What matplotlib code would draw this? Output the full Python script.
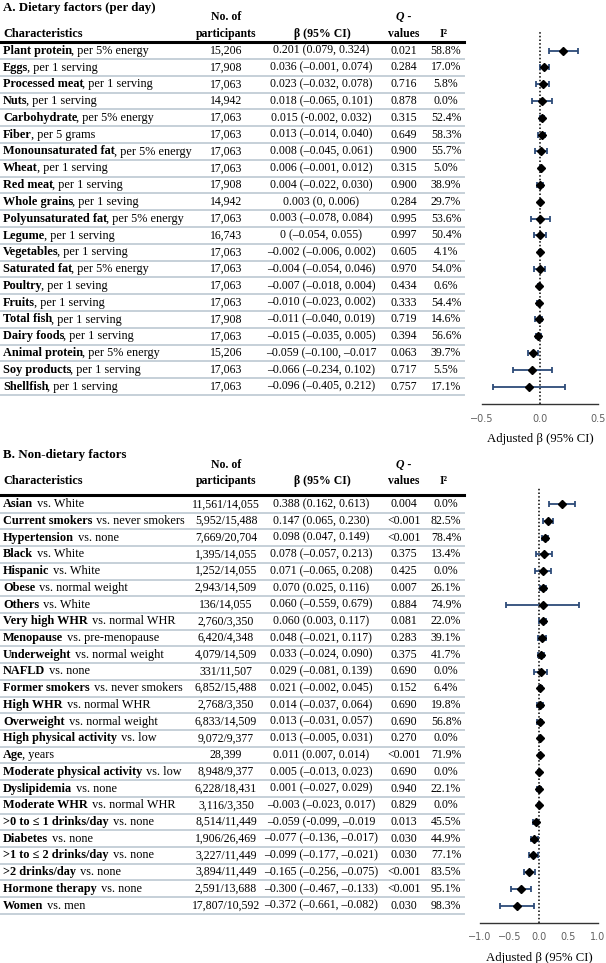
import numpy as np
import matplotlib
matplotlib.use("Agg")
import matplotlib.pyplot as plt

plt.rcParams['font.family'] = ['Liberation Serif', 'DejaVu Serif']

# ---------------- A. Dietary factors ----------------
a_name = ["Plant protein", "Eggs", "Processed meat", "Nuts", "Carbohydrate", "Fiber",
          "Monounsaturated fat", "Wheat", "Red meat", "Whole grains", "Polyunsaturated fat",
          "Legume", "Vegetables", "Saturated fat", "Poultry", "Fruits", "Total fish",
          "Dairy foods", "Animal protein", "Soy products", "Shellfish"]
a_unit = [", per 5% energy", ", per 1 serving", ", per 1 serving", ", per 1 serving",
          ", per 5% energy", ", per 5 grams", ", per 5% energy", ", per 1 serving",
          ", per 1 serving", ", per 1 seving", ", per 5% energy", ", per 1 serving",
          ", per 1 serving", ", per 5% energy", ", per 1 seving", ", per 1 serving",
          ", per 1 serving", ", per 1 serving", ", per 5% energy", ", per 1 serving",
          ", per 1 serving"]
a_n = ["15,206", "17,908", "17,063", "14,942", "17,063", "17,063", "17,063", "17,063",
       "17,908", "14,942", "17,063", "16,743", "17,063", "17,063", "17,063", "17,063",
       "17,908", "17,063", "15,206", "17,063", "17,063"]
a_ci_txt = ["0.201 (0.079, 0.324)", "0.036 (\u20130.001, 0.074)", "0.023 (\u20130.032, 0.078)",
            "0.018 (\u20130.065, 0.101)", "0.015 (-0.002, 0.032)", "0.013 (\u20130.014, 0.040)",
            "0.008 (\u20130.045, 0.061)", "0.006 (\u20130.001, 0.012)", "0.004 (\u20130.022, 0.030)",
            "0.003 (0, 0.006)", "0.003 (\u20130.078, 0.084)", "0 (\u20130.054, 0.055)",
            "\u20130.002 (\u20130.006, 0.002)", "\u20130.004 (\u20130.054, 0.046)",
            "\u20130.007 (\u20130.018, 0.004)", "\u20130.010 (\u20130.023, 0.002)",
            "\u20130.011 (\u20130.040, 0.019)", "\u20130.015 (\u20130.035, 0.005)",
            "\u20130.059 (\u20130.100, \u20130.017", "\u20130.066 (\u20130.234, 0.102)",
            "\u20130.096 (\u20130.405, 0.212)"]
a_q = ["0.021", "0.284", "0.716", "0.878", "0.315", "0.649", "0.900", "0.315", "0.900",
       "0.284", "0.995", "0.997", "0.605", "0.970", "0.434", "0.333", "0.719", "0.394",
       "0.063", "0.717", "0.757"]
a_i2 = ["58.8%", "17.0%", "5.8%", "0.0%", "52.4%", "58.3%", "55.7%", "5.0%", "38.9%",
        "29.7%", "53.6%", "50.4%", "4.1%", "54.0%", "0.6%", "54.4%", "14.6%", "56.6%",
        "39.7%", "5.5%", "17.1%"]
a_beta = [0.201, 0.036, 0.023, 0.018, 0.015, 0.013, 0.008, 0.006, 0.004, 0.003, 0.003,
          0.0, -0.002, -0.004, -0.007, -0.010, -0.011, -0.015, -0.059, -0.066, -0.096]
a_lo = [0.079, -0.001, -0.032, -0.065, -0.002, -0.014, -0.045, -0.001, -0.022, 0.0, -0.078,
        -0.054, -0.006, -0.054, -0.018, -0.023, -0.040, -0.035, -0.100, -0.234, -0.405]
a_hi = [0.324, 0.074, 0.078, 0.101, 0.032, 0.040, 0.061, 0.012, 0.030, 0.006, 0.084,
        0.055, 0.002, 0.046, 0.004, 0.002, 0.019, 0.005, -0.017, 0.102, 0.212]

# ---------------- B. Non-dietary factors ----------------
b_name = ["Asian", "Current smokers", "Hypertension", "Black", "Hispanic", "Obese", "Others",
          "Very high WHR", "Menopause", "Underweight", "NAFLD", "Former smokers", "High WHR",
          "Overweight", "High physical activity", "Age", "Moderate physical activity",
          "Dyslipidemia", "Moderate WHR", ">0 to \u2264 1 drinks/day", "Diabetes",
          ">1 to \u2264 2 drinks/day", ">2 drinks/day", "Hormone therapy", "Women"]
b_unit = [" vs. White", " vs. never smokers", " vs. none", " vs. White", " vs. White",
          " vs. normal weight", " vs. White", " vs. normal WHR", " vs. pre-menopause",
          " vs. normal weight", " vs. none", " vs. never smokers", " vs. normal WHR",
          " vs. normal weight", " vs. low", ", years", " vs. low", " vs. none",
          " vs. normal WHR", " vs. none", " vs. none", " vs. none", " vs. none", " vs. none",
          " vs. men"]
b_n = ["11,561/14,055", "5,952/15,488", "7,669/20,704", "1,395/14,055", "1,252/14,055",
       "2,943/14,509", "136/14,055", "2,760/3,350", "6,420/4,348", "4,079/14,509",
       "331/11,507", "6,852/15,488", "2,768/3,350", "6,833/14,509", "9,072/9,377", "28,399",
       "8,948/9,377", "6,228/18,431", "3,116/3,350", "8,514/11,449", "1,906/26,469",
       "3,227/11,449", "3,894/11,449", "2,591/13,688", "17,807/10,592"]
b_ci_txt = ["0.388 (0.162, 0.613)", "0.147 (0.065, 0.230)", "0.098 (0.047, 0.149)",
            "0.078 (\u20130.057, 0.213)", "0.071 (\u20130.065, 0.208)", "0.070 (0.025, 0.116)",
            "0.060 (\u20130.559, 0.679)", "0.060 (0.003, 0.117)", "0.048 (\u20130.021, 0.117)",
            "0.033 (\u20130.024, 0.090)", "0.029 (\u20130.081, 0.139)", "0.021 (\u20130.002, 0.045)",
            "0.014 (\u20130.037, 0.064)", "0.013 (\u20130.031, 0.057)", "0.013 (\u20130.005, 0.031)",
            "0.011 (0.007, 0.014)", "0.005 (\u20130.013, 0.023)", "0.001 (\u20130.027, 0.029)",
            "\u20130.003 (\u20130.023, 0.017)", "\u20130.059 (-0.099, \u20130.019",
            "\u20130.077 (\u20130.136, \u20130.017)", "\u20130.099 (\u20130.177, \u20130.021)",
            "\u20130.165 (\u20130.256, \u20130.075)", "\u20130.300 (\u20130.467, \u20130.133)",
            "\u20130.372 (\u20130.661, \u20130.082)"]
b_q = ["0.004", "<0.001", "<0.001", "0.375", "0.425", "0.007", "0.884", "0.081", "0.283",
       "0.375", "0.690", "0.152", "0.690", "0.690", "0.270", "<0.001", "0.690", "0.940",
       "0.829", "0.013", "0.030", "0.030", "<0.001", "<0.001", "0.030"]
b_i2 = ["0.0%", "82.5%", "78.4%", "13.4%", "0.0%", "26.1%", "74.9%", "22.0%", "39.1%",
        "41.7%", "0.0%", "6.4%", "19.8%", "56.8%", "0.0%", "71.9%", "0.0%", "22.1%", "0.0%",
        "45.5%", "44.9%", "77.1%", "83.5%", "95.1%", "98.3%"]
b_beta = [0.388, 0.147, 0.098, 0.078, 0.071, 0.070, 0.060, 0.060, 0.048, 0.033, 0.029, 0.021,
          0.014, 0.013, 0.013, 0.011, 0.005, 0.001, -0.003, -0.059, -0.077, -0.099, -0.165,
          -0.300, -0.372]
b_lo = [0.162, 0.065, 0.047, -0.057, -0.065, 0.025, -0.559, 0.003, -0.021, -0.024, -0.081,
        -0.002, -0.037, -0.031, -0.005, 0.007, -0.013, -0.027, -0.023, -0.099, -0.136, -0.177,
        -0.256, -0.467, -0.661]
b_hi = [0.613, 0.230, 0.149, 0.213, 0.208, 0.116, 0.679, 0.117, 0.117, 0.090, 0.139, 0.045,
        0.064, 0.057, 0.031, 0.014, 0.023, 0.029, 0.017, -0.019, -0.017, -0.021, -0.075,
        -0.133, -0.082]

W, H = 606, 963
FS = 8.5        # numbers / header
FS_NAME = 8.8   # characteristics column
LINE_C = "#c6d0d8"
ERR_C = "#2d4b78"

fig = plt.figure(figsize=(W / 100, H / 100), dpi=100)
bg = fig.add_axes([0, 0, 1, 1])
bg.set_xlim(0, W)
bg.set_ylim(H, 0)
bg.axis("off")
renderer = fig.canvas.get_renderer()


def panel(title, names, units, ns, ci_txt, qs, i2s, beta, lo, hi,
          top, y0, dy, ax_l, ax_w, ax_top, ax_bot, xlim, ticks):
    # title and header
    bg.text(3, top, title, fontsize=9.3, fontweight="bold", va="center")
    h1, h2 = top + 9.5, top + 26
    bg.text(226, h1, "No. of", fontsize=FS, fontweight="bold", ha="center", va="center")
    bg.text(3, h2, "Characteristics", fontsize=FS_NAME, fontweight="bold", va="center")
    bg.text(226, h2, "participants", fontsize=FS, fontweight="bold", ha="center", va="center")
    bg.text(322, h2, "\u03b2 (95% CI)", fontsize=FS, fontweight="bold", ha="center", va="center")
    bg.text(404, h1, "Q -", fontsize=FS, fontweight="bold", style="italic", ha="center", va="center")
    bg.text(404, h2, "values", fontsize=FS, fontweight="bold", ha="center", va="center")
    bg.text(444, h2, "I\u00b2", fontsize=FS, fontweight="bold", ha="center", va="center")
    bg.plot([0, 464], [y0 - dy * 0.53, y0 - dy * 0.53], color="black", lw=2.2)

    for i in range(len(names)):
        y = y0 + i * dy
        t = bg.text(3, y, names[i], fontsize=FS_NAME, fontweight="bold", va="center")
        shift = -1.2 if units[i].startswith(",") else 1.0
        x_end = t.get_window_extent(renderer=renderer).x1 + shift
        bg.text(x_end, y, units[i], fontsize=FS_NAME, va="center")
        bg.text(226, y, ns[i], fontsize=FS, ha="center", va="center")
        bg.text(321, y, ci_txt[i], fontsize=FS, ha="center", va="center")
        bg.text(404, y, qs[i], fontsize=FS, ha="center", va="center")
        bg.text(446, y, i2s[i], fontsize=FS, ha="center", va="center")
        bg.plot([0, 464], [y + dy / 2, y + dy / 2], color=LINE_C, lw=1.4)

    # forest plot
    ax = fig.add_axes([ax_l / W, 1 - ax_bot / H, ax_w / W, (ax_bot - ax_top) / H])
    ax.patch.set_alpha(0)
    b = np.array(beta)
    idx = np.arange(len(b))
    err = [b - np.array(lo), np.array(hi) - b]
    ax.errorbar(b, idx, xerr=err, fmt="none", ecolor=ERR_C, elinewidth=1.3,
                capsize=2.5, capthick=1.3, zorder=2)
    ax.plot(b, idx, "D", color="black", markersize=4.2, zorder=3)
    ax.axvline(0, color="black", ls=(0, (1, 1.4)), lw=1.1, zorder=1)
    ax.set_xlim(*xlim)
    ax.set_ylim((ax_bot - y0) / dy, (ax_top - y0) / dy)
    ax.set_yticks([])
    ax.set_xticks(ticks)
    ax.set_xticklabels(["\u2212%.1f" % abs(v) if v < 0 else "%.1f" % v for v in ticks],
                       family="DejaVu Sans", fontsize=7.0, color="#606060")
    ax.tick_params(axis="x", length=0, pad=7)
    for s in ["left", "right", "top"]:
        ax.spines[s].set_visible(False)
    ax.spines["bottom"].set_color("#333333")
    ax.spines["bottom"].set_linewidth(1.0)
    ax.set_xlabel("Adjusted \u03b2 (95% CI)", fontsize=9.2, labelpad=7)


panel("A. Dietary factors (per day)", a_name, a_unit, a_n, a_ci_txt, a_q, a_i2,
      a_beta, a_lo, a_hi, top=8, y0=50.7, dy=16.8,
      ax_l=482, ax_w=116, ax_top=32, ax_bot=404, xlim=(-0.5, 0.5), ticks=[-0.5, 0.0, 0.5])

panel("B. Non-dietary factors", b_name, b_unit, b_n, b_ci_txt, b_q, b_i2,
      b_beta, b_lo, b_hi, top=455, y0=504.3, dy=16.72,
      ax_l=480, ax_w=118, ax_top=488, ax_bot=922.7, xlim=(-1.0, 1.0),
      ticks=[-1.0, -0.5, 0.0, 0.5, 1.0])

fig.savefig("out.png", dpi=100)
